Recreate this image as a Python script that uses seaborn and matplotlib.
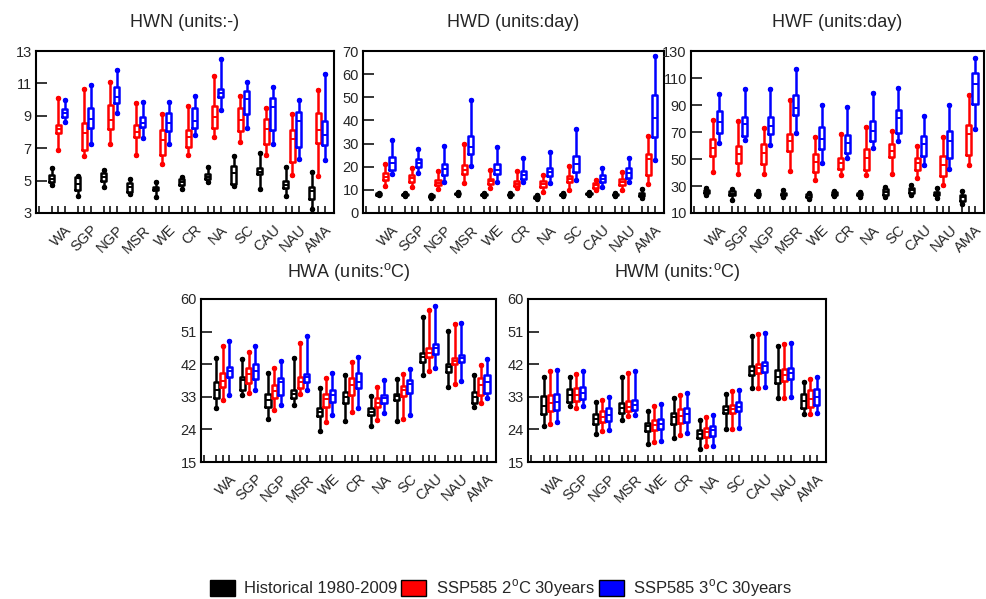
import numpy as np
import pandas as pd
import matplotlib
matplotlib.use("Agg")
import matplotlib.pyplot as plt
import seaborn as sns
from matplotlib.patches import Patch

REGIONS = ['WA', 'SGP', 'NGP', 'MSR', 'WE', 'CR', 'NA', 'SC', 'CAU', 'NAU', 'AMA']
SCEN_KEYS = ['hist', 'ssp2', 'ssp3']
SCEN_LABELS = ['Historical 1980-2009', 'SSP585 2$^{\\rm o}$C 30years', 'SSP585 3$^{\\rm o}$C 30years']
COLORS = ['#000000', '#ff0000', '#0000ff']

# five-number summaries per region: [whisker low, Q1, median, Q3, whisker high]
HWN_HIST = [[4.7, 4.9, 5.1, 5.35, 5.75], [4.05, 4.4, 4.8, 5.2, 5.3], [4.6, 5.0, 5.25, 5.5, 5.65],
            [4.2, 4.3, 4.6, 4.85, 5.1], [4.0, 4.4, 4.5, 4.6, 4.9], [4.5, 4.75, 4.9, 5.1, 5.2],
            [4.9, 5.1, 5.25, 5.4, 5.85], [4.65, 4.8, 5.45, 5.9, 6.5], [4.5, 5.4, 5.55, 5.75, 6.7],
            [4.05, 4.55, 4.7, 5.0, 5.85], [3.25, 3.85, 4.35, 4.6, 5.55]]
HWN_SSP2 = [[6.9, 7.95, 8.2, 8.45, 10.1], [6.5, 6.9, 7.95, 8.55, 10.65], [7.25, 8.2, 8.75, 9.65, 11.1],
            [6.55, 7.7, 8.0, 8.45, 9.8], [6.0, 6.6, 7.5, 8.1, 9.1], [6.55, 7.1, 7.7, 8.15, 9.6],
            [7.7, 8.25, 8.95, 9.6, 11.45], [7.4, 8.05, 8.75, 9.5, 10.2], [6.55, 7.25, 8.2, 8.8, 9.5],
            [5.35, 6.15, 7.55, 8.15, 9.1], [5.3, 7.3, 8.15, 9.15, 10.6]]
HWN_SSP3 = [[8.6, 8.9, 9.15, 9.45, 9.95], [7.25, 8.25, 8.8, 9.5, 10.9], [9.2, 9.8, 10.15, 10.75, 11.8],
            [7.6, 8.3, 8.55, 8.9, 9.85], [7.25, 8.05, 8.55, 9.15, 9.85], [7.8, 8.25, 8.7, 9.5, 10.2],
            [9.35, 10.15, 10.4, 10.65, 12.5], [8.25, 9.1, 10.05, 10.55, 11.1], [7.25, 8.15, 9.55, 10.1, 10.75],
            [6.35, 7.05, 8.7, 9.25, 9.95], [6.25, 7.2, 7.8, 8.7, 11.55]]

HWD_HIST = [[7.6, 7.9, 8.2, 8.5, 8.8], [7.2, 7.6, 8.0, 8.4, 8.8], [6.6, 7.0, 7.3, 7.6, 7.9],
            [7.6, 8.0, 8.4, 8.8, 9.2], [7.3, 7.7, 8.0, 8.3, 8.6], [7.3, 7.7, 8.0, 8.3, 8.6],
            [6.2, 6.6, 7.0, 7.4, 7.8], [7.3, 7.7, 8.0, 8.3, 8.6], [7.8, 8.1, 8.4, 8.7, 9.0],
            [7.3, 7.7, 8.0, 8.3, 8.6], [6.5, 7.2, 7.8, 8.5, 10.3]]
HWD_SSP2 = [[11.5, 14.1, 15.6, 17.3, 21.0], [11.2, 13.4, 15.0, 16.3, 19.4], [10.2, 12.0, 13.0, 14.1, 18.1],
            [13.0, 17.0, 18.4, 20.6, 30.0], [10.9, 12.7, 13.8, 14.8, 18.7], [10.8, 11.5, 12.5, 13.7, 18.0],
            [9.1, 11.2, 12.5, 13.7, 16.3], [10.1, 13.4, 14.6, 15.8, 20.2], [9.8, 10.9, 11.9, 13.0, 14.4],
            [10.1, 12.0, 13.2, 14.8, 17.7], [12.7, 16.3, 23.5, 25.3, 33.1]]
HWD_SSP3 = [[16.7, 18.4, 21.5, 24.2, 31.4], [17.3, 19.9, 21.8, 23.5, 27.8], [13.4, 16.3, 18.8, 21.3, 28.8],
            [20.2, 25.3, 28.5, 33.1, 48.7], [13.4, 16.7, 18.5, 21.0, 28.5], [13.4, 14.8, 16.6, 18.1, 23.9],
            [13.0, 16.2, 17.7, 19.6, 26.4], [14.1, 17.7, 21.0, 24.5, 36.4], [11.2, 13.4, 14.8, 16.3, 19.6],
            [13.4, 15.3, 17.2, 19.6, 23.9], [22.8, 32.8, 41.0, 51.1, 67.7]]

HWF_HIST = [[23.5, 24.8, 25.8, 27.0, 28.5], [20.0, 23.0, 24.4, 26.0, 27.5], [22.5, 23.0, 24.0, 25.0, 26.0],
            [21.7, 23.0, 24.0, 25.0, 27.0], [20.7, 22.0, 23.0, 24.0, 24.9], [22.4, 23.5, 24.4, 25.5, 26.1],
            [21.9, 23.0, 23.7, 24.6, 25.4], [22.0, 23.3, 25.8, 27.9, 29.0], [23.7, 25.0, 27.0, 28.6, 31.1],
            [21.4, 23.0, 24.4, 25.5, 28.8], [16.7, 19.2, 21.5, 23.7, 26.0]]
HWF_SSP2 = [[40.4, 52.2, 58.4, 65.1, 78.9], [38.6, 46.8, 53.5, 59.6, 78.1], [38.6, 46.5, 54.2, 60.9, 73.2],
            [41.1, 55.9, 63.3, 68.3, 93.7], [34.4, 40.4, 47.8, 53.5, 66.5], [37.9, 42.3, 46.8, 51.0, 68.3],
            [37.9, 41.9, 51.0, 57.7, 73.9], [39.1, 51.5, 56.0, 60.9, 70.9], [35.9, 42.1, 46.8, 50.8, 59.9],
            [30.9, 37.6, 45.8, 52.0, 66.6], [45.5, 53.2, 68.5, 75.4, 97.5]]
HWF_SSP3 = [[62.1, 69.0, 77.4, 85.3, 97.9], [64.1, 67.0, 76.0, 81.1, 101.6], [60.1, 68.3, 74.4, 81.1, 102.1],
            [69.0, 82.3, 88.0, 97.4, 116.9], [47.3, 57.7, 65.1, 73.9, 89.7], [51.0, 54.7, 62.1, 67.5, 88.5],
            [58.4, 63.3, 70.7, 78.1, 99.1], [63.5, 69.6, 80.5, 86.3, 102.3], [45.8, 52.0, 61.2, 66.9, 81.8],
            [42.7, 50.8, 63.7, 70.6, 89.8], [72.0, 91.0, 105.5, 113.4, 125.0]]

HWA_HIST = [[29.8, 32.6, 34.9, 37.2, 43.6], [33.5, 34.9, 37.6, 38.6, 43.4], [27.0, 30.2, 32.1, 33.9, 39.5],
            [30.7, 32.8, 33.8, 34.9, 43.6], [23.6, 27.7, 28.9, 29.8, 35.5], [26.4, 31.2, 33.0, 34.4, 39.0],
            [24.9, 27.9, 28.9, 29.8, 33.2], [26.3, 32.1, 33.3, 33.9, 37.8], [39.0, 42.7, 44.1, 45.0, 55.0],
            [35.6, 39.9, 41.1, 42.1, 51.3], [30.2, 31.4, 33.0, 34.4, 39.0]]
HWA_SSP2 = [[32.1, 35.6, 37.5, 39.5, 47.1], [34.1, 36.9, 39.3, 40.9, 45.5], [29.3, 32.8, 34.7, 36.3, 40.9],
            [33.9, 35.3, 37.0, 38.4, 47.8], [26.1, 30.2, 32.3, 33.9, 38.1], [28.9, 33.5, 36.2, 38.1, 42.7],
            [26.7, 30.2, 31.4, 32.6, 35.8], [27.0, 33.2, 35.0, 36.0, 39.3], [40.0, 44.1, 45.2, 46.4, 57.0],
            [36.5, 42.1, 42.9, 43.6, 53.2], [31.2, 33.5, 36.2, 38.1, 41.8]]
HWA_SSP3 = [[33.5, 38.6, 40.0, 41.3, 48.5], [34.9, 37.8, 40.2, 42.1, 47.1], [30.7, 33.5, 37.0, 38.1, 43.0],
            [34.9, 37.2, 38.4, 39.3, 49.7], [27.9, 31.6, 33.5, 34.9, 39.7], [29.8, 35.3, 37.0, 39.5, 44.1],
            [28.4, 31.4, 32.8, 33.5, 37.6], [27.9, 34.1, 36.5, 37.6, 40.6], [40.9, 44.8, 46.4, 47.6, 58.1],
            [37.5, 42.7, 43.7, 44.6, 53.5], [32.6, 34.1, 37.0, 39.0, 43.4]]

HWM_HIST = [[24.9, 28.2, 30.5, 33.2, 38.6], [30.4, 31.6, 33.5, 35.1, 38.6], [22.7, 25.6, 27.0, 28.2, 31.6],
            [26.7, 28.6, 29.8, 31.2, 38.6], [20.1, 23.6, 24.9, 25.8, 29.1], [21.5, 25.6, 27.3, 28.6, 32.6],
            [18.7, 21.5, 22.7, 23.8, 26.7], [24.0, 28.4, 29.3, 30.4, 33.9], [35.5, 39.0, 40.2, 41.5, 49.8],
            [32.8, 36.7, 38.6, 40.4, 46.9], [28.2, 29.8, 31.8, 33.8, 37.2]]
HWM_SSP2 = [[25.5, 29.0, 31.2, 33.5, 40.0], [30.0, 31.8, 33.5, 35.3, 39.3], [23.5, 26.0, 27.5, 29.2, 32.2],
            [27.8, 29.0, 30.3, 31.8, 39.5], [20.5, 23.8, 25.2, 26.5, 30.5], [22.5, 25.8, 27.8, 29.5, 33.5],
            [19.3, 22.0, 23.2, 24.5, 27.5], [24.2, 28.6, 29.6, 30.8, 34.5], [35.5, 39.7, 41.0, 42.1, 50.4],
            [32.8, 37.4, 39.0, 40.6, 47.5], [28.2, 30.1, 32.5, 34.9, 37.8]]
HWM_SSP3 = [[26.0, 29.3, 31.5, 33.8, 40.3], [30.5, 32.3, 34.0, 35.8, 40.0], [23.8, 26.3, 28.0, 30.0, 33.0],
            [28.0, 29.3, 30.6, 32.2, 40.0], [20.8, 24.0, 25.5, 27.0, 31.0], [23.0, 26.0, 28.3, 30.0, 34.0],
            [19.5, 22.3, 23.7, 25.0, 28.0], [24.5, 29.0, 30.2, 31.5, 35.0], [35.8, 39.9, 41.5, 42.7, 50.7],
            [32.9, 37.8, 39.5, 40.9, 47.8], [28.4, 30.7, 33.0, 35.1, 38.4]]

HWN_YTICKS = [3, 5, 7, 9, 11, 13]
HWD_YTICKS = [0, 10, 20, 30, 40, 50, 60, 70]
HWF_YTICKS = [10, 30, 50, 70, 90, 110, 130]
HWA_YTICKS = [15, 24, 33, 42, 51, 60]
HWM_YTICKS = [15, 24, 33, 42, 51, 60]

PANELS = [
    ("HWN (units:-)", [HWN_HIST, HWN_SSP2, HWN_SSP3], HWN_YTICKS, [36, 51, 334, 213], 17),
    ("HWD (units:day)", [HWD_HIST, HWD_SSP2, HWD_SSP3], HWD_YTICKS, [363, 51, 664, 213], 17),
    ("HWF (units:day)", [HWF_HIST, HWF_SSP2, HWF_SSP3], HWF_YTICKS, [691, 51, 984, 213], 17),
    ("HWA (units:$^{\\rm o}$C)", [HWA_HIST, HWA_SSP2, HWA_SSP3], HWA_YTICKS, [201, 299, 496, 462], 16),
    ("HWM (units:$^{\\rm o}$C)", [HWM_HIST, HWM_SSP2, HWM_SSP3], HWM_YTICKS, [528, 299, 826, 462], 16),
]

sns.set_style("ticks")
plt.rcParams['font.family'] = ['Liberation Sans', 'DejaVu Sans']
plt.rcParams['mathtext.fontset'] = 'custom'
plt.rcParams['mathtext.rm'] = 'Liberation Sans'
plt.rcParams['axes.edgecolor'] = 'black'
plt.rcParams['axes.linewidth'] = 1.5

W, H = 986, 599
fig = plt.figure(figsize=(W / 100, H / 100), dpi=100)
palette = dict(zip(SCEN_KEYS, COLORS))

for title, series, yticks, (x0, y0, x1, y1), tpad in PANELS:
    ax = fig.add_axes([x0 / W, 1 - y1 / H, (x1 - x0) / W, (y1 - y0) / H])
    rows = []
    for j, (key, vals) in enumerate(zip(SCEN_KEYS, series)):
        for i, five in enumerate(vals):
            for v in five:
                rows.append({'pos': 4 * i + j, 'value': v, 'scen': key, 'region': REGIONS[i]})
    df = pd.DataFrame(rows)
    sns.boxplot(data=df, x='pos', y='value', hue='scen', palette=palette,
                hue_order=SCEN_KEYS, native_scale=True, dodge=False, fill=False,
                whis=(0, 100), width=0.8, linewidth=1.8, showfliers=False,
                legend=False, ax=ax,
                medianprops=dict(linewidth=1.4),
                whiskerprops=dict(linewidth=1.8),
                capprops=dict(linewidth=0, marker='o', markersize=2.8))
    # collapse the caps to a single dot at the whisker tip
    for ln in ax.lines:
        if ln.get_marker() == 'o':
            xd = np.asarray(ln.get_xdata(), dtype=float)
            ln.set_xdata([xd.mean(), xd.mean()])
    ax.set_xlim(-2.4, 43.4)
    ax.set_ylim(yticks[0], yticks[-1])
    ax.set_yticks(yticks)
    ax.set_yticklabels([str(t) for t in yticks], fontsize=10.5)
    ax.set_xticks([4 * i + 2 for i in range(len(REGIONS))])
    ax.set_xticklabels(REGIONS, rotation=45, ha='right', va='top',
                       rotation_mode='anchor', fontsize=10.5)
    minor = [-2] + [4 * i + j for i in range(len(REGIONS)) for j in range(2)]
    ax.set_xticks(minor, minor=True)
    ax.tick_params(axis='x', which='both', direction='in', length=5, width=1.3,
                   top=False, pad=7)
    ax.tick_params(axis='y', which='major', direction='in', length=8, width=1.3,
                   right=False, pad=3)
    ax.set_xlabel('')
    ax.set_ylabel('')
    for s in ax.spines.values():
        s.set_visible(True)
        s.set_linewidth(1.5)
    ax.set_title(title, fontsize=13, pad=tpad)

handles = [Patch(facecolor=c, edgecolor='black', linewidth=1.0, label=l)
           for c, l in zip(COLORS, SCEN_LABELS)]
fig.legend(handles=handles, loc='center', bbox_to_anchor=(0.508, 0.018), ncol=3,
           frameon=False, fontsize=12, handlelength=1.5, handleheight=1.1,
           columnspacing=0.25, handletextpad=0.55)

fig.savefig("out.png", dpi=100)
